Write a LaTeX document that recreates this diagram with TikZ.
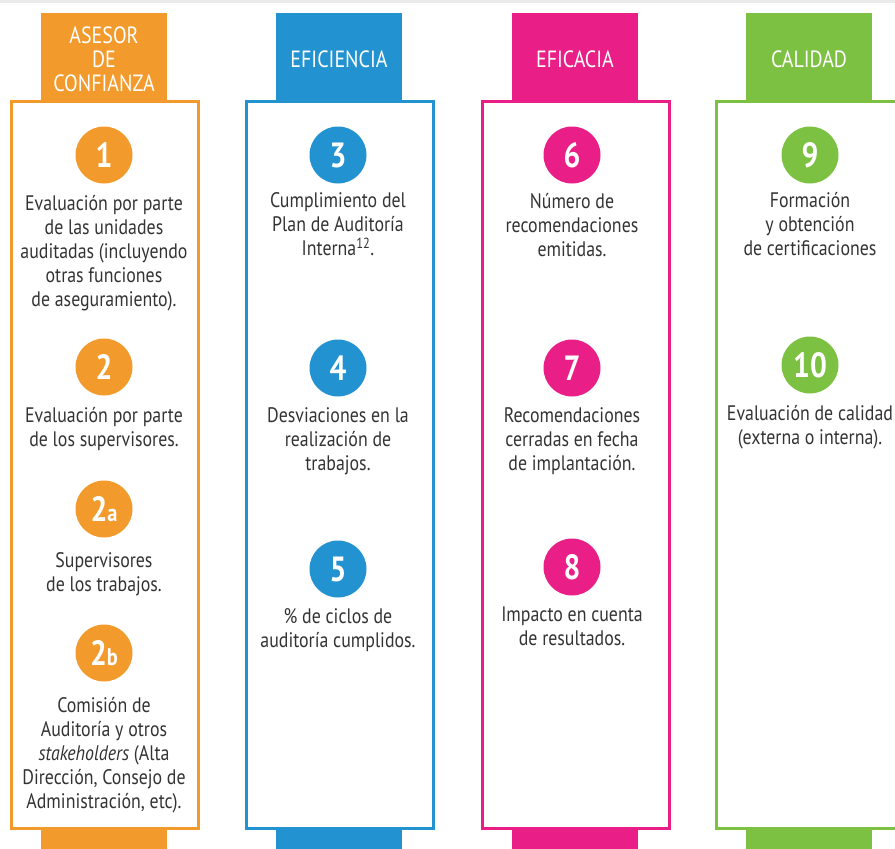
\documentclass[tikz,border=0pt]{standalone}
\usepackage{fontspec}
\setmainfont[FakeStretch=0.85]{PT Sans}
\usepackage{tikz}
\usetikzlibrary{positioning}

\definecolor{asesor}{HTML}{F39A2C}
\definecolor{eficiencia}{HTML}{2292D0}
\definecolor{eficacia}{HTML}{E91E87}
\definecolor{calidad}{HTML}{7DC143}
\definecolor{texto}{HTML}{333333}
\definecolor{banda}{HTML}{EBEBEB}

\begin{document}
\begin{tikzpicture}[x=1pt,y=-1pt,
  head/.style={fill=#1,minimum width=126pt,minimum height=88pt,inner sep=0pt},
  headtext/.style={text=white,inner sep=0pt,align=center,font=\fontsize{23.5}{24}\selectfont},
  frame/.style={draw=#1,line width=3pt},
  badge/.style={circle,fill=#1,text=white,minimum size=57pt,inner sep=0pt,font=\fontsize{35}{36}\selectfont\bfseries},
  item/.style={align=center,text=texto,inner sep=0pt,font=\fontsize{21}{24}\selectfont}]
\useasboundingbox (0,0) rectangle (895,849);
\clip (0,0) rectangle (895,849);
\fill[banda] (0,0) rectangle (895,3);
% columns: frame and bottom tab
\foreach \x/\c in {10/asesor,245/eficiencia,481/eficacia,715/calidad}
{
\draw[frame=\c] (\x+1.5,101.5) rectangle (\x+188.5,828.5);
\fill[\c] (\x+31,829) rectangle (\x+157,849);
}
% headers
\node[head=asesor] (h1) at (104,57) {};
\node[head=eficiencia] (h2) at (339,57) {};
\node[head=eficacia] (h3) at (575,57) {};
\node[head=calidad] (h4) at (809,57) {};
\node[headtext] (l1) at ([yshift=-2pt]h1) {ASESOR\\DE\\CONFIANZA};
\node[headtext] (l2) at ([yshift=-2pt]h2) {EFICIENCIA};
\node[headtext] (l3) at ([yshift=-2pt]h3) {EFICACIA};
\node[headtext] (l4) at ([yshift=-2pt]h4) {CALIDAD};
% asesor de confianza
\node[badge=asesor] (n1) at (104,155) {1};
\node[item,below=11pt of n1] (t1) {Evaluación por parte\\de las unidades\\auditadas (incluyendo\\otras funciones\\de aseguramiento).};
\node[badge=asesor] (n2) at (104,367) {2};
\node[item,below=11pt of n2] (t2) {Evaluación por parte\\de los supervisores.};
\node[badge=asesor] (n2a) at (104,509) {2\fontsize{24}{24}\selectfont a};
\node[item,below=15pt of n2a] (t2a) {Supervisores\\de los trabajos.};
\node[badge=asesor] (n2b) at (104,653) {2\fontsize{24}{24}\selectfont b};
\node[item,below=15pt of n2b] (t2b) {Comisión de\\Auditoría y otros\\\textit{stakeholders} (Alta\\Dirección, Consejo de\\Administración, etc).};
% eficiencia
\node[badge=eficiencia] (n3) at (338,155) {3};
\node[item,below=9pt of n3] (t3) {Cumplimiento del\\Plan de Auditoría\\Interna\textsuperscript{12}.};
\node[badge=eficiencia] (n4) at (338,368) {4};
\node[item,below=11pt of n4] (t4) {Desviaciones en la\\realización de\\trabajos.};
\node[badge=eficiencia] (n5) at (338,569) {5};
\node[item,below=11pt of n5] (t5) {\% de ciclos de\\auditoría cumplidos.};
% eficacia
\node[badge=eficacia] (n6) at (572,155) {6};
\node[item,below=9pt of n6] (t6) {Número de\\recomendaciones\\emitidas.};
\node[badge=eficacia] (n7) at (572,368) {7};
\node[item,below=11pt of n7] (t7) {Recomendaciones\\cerradas en fecha\\de implantación.};
\node[badge=eficacia] (n8) at (572,567) {8};
\node[item,below=11pt of n8] (t8) {Impacto en cuenta\\de resultados.};
% calidad
\node[badge=calidad] (n9) at (810,155) {9};
\node[item,below=8pt of n9] (t9) {Formación\\y obtención\\de certificaciones};
\node[badge=calidad] (n10) at (810,365) {10};
\node[item,below=11pt of n10] (t10) {Evaluación de calidad\\(externa o interna).};
\end{tikzpicture}
\end{document}
